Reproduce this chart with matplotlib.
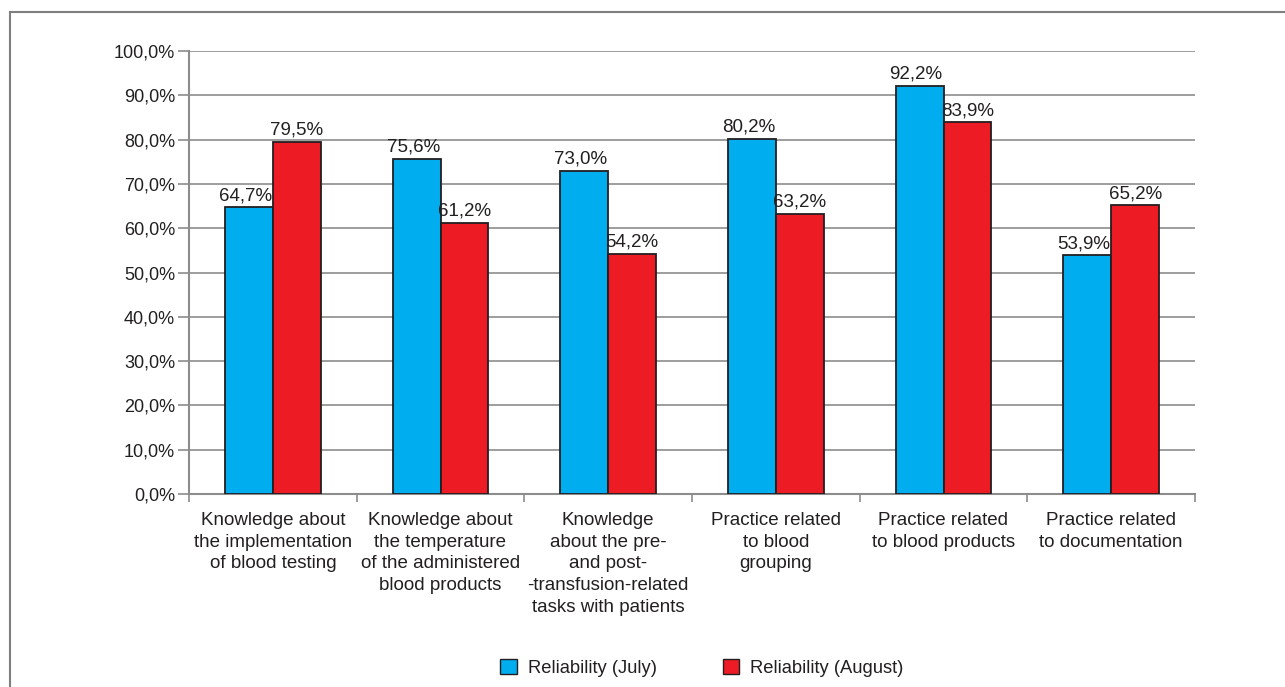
import matplotlib
matplotlib.use("Agg")
import matplotlib.pyplot as plt
import numpy as np
from matplotlib.lines import Line2D
from matplotlib.patches import Patch

plt.rcParams['font.family'] = ['Liberation Sans', 'DejaVu Sans']

categories = [
    "Knowledge about\nthe implementation\nof blood testing",
    "Knowledge about\nthe temperature\nof the administered\nblood products",
    "Knowledge\nabout the pre-\nand post-\n-transfusion-related\ntasks with patients",
    "Practice related\nto blood\ngrouping",
    "Practice related\nto blood products",
    "Practice related\nto documentation",
]
july = [64.7, 75.6, 73.0, 80.2, 92.2, 53.9]
august = [79.5, 61.2, 54.2, 63.2, 83.9, 65.2]
series_names = ["Reliability (July)", "Reliability (August)"]
yticks = [0, 10, 20, 30, 40, 50, 60, 70, 80, 90, 100]

blue = "#00AEEF"
red = "#ED1C24"
grid_c = "#8c8c8c"
txt_c = "#231f20"

fig = plt.figure(figsize=(12.85, 6.87), dpi=100)
ax = fig.add_axes([189/1285, 1-494/687, (1195-189)/1285, (494-51)/687])

x = np.arange(len(categories))
w = 0.286
ax.bar(x - w/2, july, w, color=blue, edgecolor=txt_c, linewidth=1.3, zorder=3)
ax.bar(x + w/2, august, w, color=red, edgecolor=txt_c, linewidth=1.3, zorder=3)

for xi, v in zip(x - w/2, july):
    ax.text(xi - 0.02, v + 0.7, f"{v:.1f}%".replace('.', ','), ha='center', va='bottom',
            fontsize=13.5, color=txt_c)
for xi, v in zip(x + w/2, august):
    ax.text(xi, v + 0.7, f"{v:.1f}%".replace('.', ','), ha='center', va='bottom',
            fontsize=13.5, color=txt_c)

ax.set_xlim(-0.5, len(categories) - 0.5)
ax.set_ylim(0, 100)
ax.set_yticks(yticks)
ax.set_yticklabels([f"{t:.1f}%".replace('.', ',') for t in yticks], fontsize=13, color=txt_c)
ax.yaxis.grid(True, color=grid_c, linewidth=1.2, zorder=0)
ax.set_axisbelow(True)
ax.tick_params(axis='y', length=8, width=1.2, color=grid_c, pad=2)

# x ticks at boundaries, labels at centers
ax.set_xticks(np.arange(-0.5, len(categories)), minor=False)
ax.set_xticklabels([])
ax.set_xticks(x, minor=True)
ax.set_xticklabels(categories, minor=True, fontsize=13.5, color=txt_c, linespacing=1.36)
ax.tick_params(axis='x', which='major', length=6, width=1.2, color=grid_c, direction='out')
ax.tick_params(axis='x', which='minor', length=0, pad=13)
for lbl in ax.get_xticklabels(minor=True):
    lbl.set_verticalalignment('top')

for s in ['top', 'right']:
    ax.spines[s].set_visible(False)
for s in ['left', 'bottom']:
    ax.spines[s].set_color(grid_c)
    ax.spines[s].set_linewidth(1.5)

handles = [Patch(facecolor=blue, edgecolor=txt_c, linewidth=1.0),
           Patch(facecolor=red, edgecolor=txt_c, linewidth=1.0)]
fig.legend(handles, series_names, loc='center', bbox_to_anchor=(702/1285, 1-668/687),
           ncol=2, frameon=False, fontsize=13.2, handlelength=0.9, handleheight=0.9,
           columnspacing=3.6, handletextpad=0.6, labelcolor=txt_c)

# outer frame
fig.add_artist(Line2D([10/1285, 10/1285], [0, 1-12/687], color='#7f7f7f', linewidth=1.5,
                      transform=fig.transFigure))
fig.add_artist(Line2D([10/1285, 1], [1-12/687, 1-12/687], color='#7f7f7f', linewidth=1.5,
                      transform=fig.transFigure))

fig.savefig("out.png", dpi=100)
